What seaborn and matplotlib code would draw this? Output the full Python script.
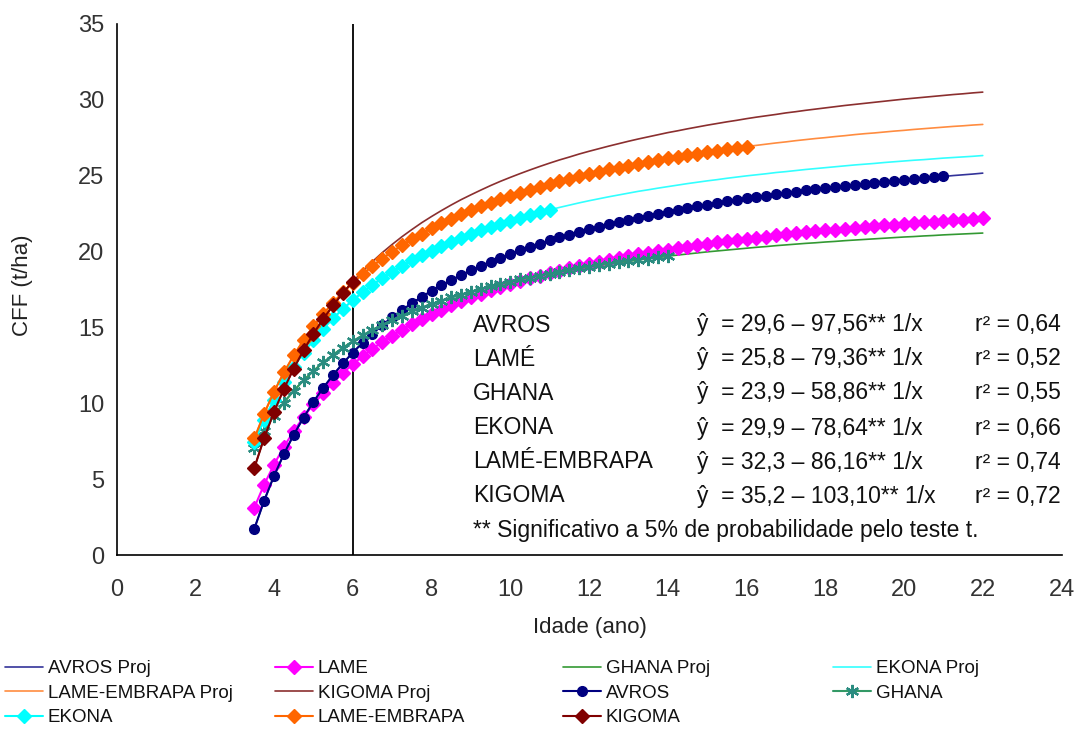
import matplotlib
matplotlib.use("Agg")
import matplotlib.pyplot as plt
import pandas as pd
import seaborn as sns

# ---------------- data ----------------
AGE = [3.5, 3.75, 4.0, 4.25, 4.5, 4.75, 5.0, 5.25, 5.5, 5.75,
       6.0, 6.25, 6.5, 6.75, 7.0, 7.25, 7.5, 7.75, 8.0, 8.25,
       8.5, 8.75, 9.0, 9.25, 9.5, 9.75, 10.0, 10.25, 10.5, 10.75,
       11.0, 11.25, 11.5, 11.75, 12.0, 12.25, 12.5, 12.75, 13.0, 13.25,
       13.5, 13.75, 14.0, 14.25, 14.5, 14.75, 15.0, 15.25, 15.5, 15.75,
       16.0, 16.25, 16.5, 16.75, 17.0, 17.25, 17.5, 17.75, 18.0, 18.25,
       18.5, 18.75, 19.0, 19.25, 19.5, 19.75, 20.0, 20.25, 20.5, 20.75,
       21.0, 21.25, 21.5, 21.75, 22.0]

AVROS = [1.73, 3.58, 5.21, 6.65, 7.92, 9.06, 10.09, 11.02, 11.86, 12.63,
         13.34, 13.99, 14.59, 15.15, 15.66, 16.14, 16.59, 17.01, 17.41, 17.77,
         18.12, 18.45, 18.76, 19.05, 19.33, 19.59, 19.84, 20.08, 20.31, 20.52,
         20.73, 20.93, 21.12, 21.30, 21.47, 21.64, 21.80, 21.95, 22.10, 22.24,
         22.37, 22.50, 22.63, 22.75, 22.87, 22.99, 23.10, 23.20, 23.31, 23.41,
         23.50, 23.60, 23.69, 23.78, 23.86, 23.94, 24.03, 24.10, 24.18, 24.25,
         24.33, 24.40, 24.47, 24.53, 24.60, 24.66, 24.72, 24.78, 24.84, 24.90,
         24.95, 25.01, 25.06, 25.11, 25.17]

LAME = [3.13, 4.64, 5.96, 7.13, 8.16, 9.09, 9.93, 10.68, 11.37, 12.00,
        12.57, 13.10, 13.59, 14.04, 14.46, 14.85, 15.22, 15.56, 15.88, 16.18,
        16.46, 16.73, 16.98, 17.22, 17.45, 17.66, 17.86, 18.06, 18.24, 18.42,
        18.59, 18.75, 18.90, 19.05, 19.19, 19.32, 19.45, 19.58, 19.70, 19.81,
        19.92, 20.03, 20.13, 20.23, 20.33, 20.42, 20.51, 20.60, 20.68, 20.76,
        20.84, 20.92, 20.99, 21.06, 21.13, 21.20, 21.27, 21.33, 21.39, 21.45,
        21.51, 21.57, 21.62, 21.68, 21.73, 21.78, 21.83, 21.88, 21.93, 21.98,
        22.02, 22.07, 22.11, 22.15, 22.19]

GHANA = [7.08, 8.20, 9.19, 10.05, 10.82, 11.51, 12.13, 12.69, 13.20, 13.66,
         14.09, 14.48, 14.84, 15.18, 15.49, 15.78, 16.05, 16.31, 16.54, 16.77,
         16.98, 17.17, 17.36, 17.54, 17.70, 17.86, 18.01, 18.16, 18.29, 18.42,
         18.55, 18.67, 18.78, 18.89, 19.00, 19.10, 19.19, 19.28, 19.37, 19.46,
         19.54, 19.62, 19.70, 19.77, 19.84, 19.91, 19.98, 20.04, 20.10, 20.16,
         20.22, 20.28, 20.33, 20.39, 20.44, 20.49, 20.54, 20.58, 20.63, 20.67,
         20.72, 20.76, 20.80, 20.84, 20.88, 20.92, 20.96, 20.99, 21.03, 21.06,
         21.10, 21.13, 21.16, 21.19, 21.22]

EKONA = [7.43, 8.93, 10.24, 11.40, 12.42, 13.34, 14.17, 14.92, 15.60, 16.22,
         16.79, 17.32, 17.80, 18.25, 18.67, 19.05, 19.42, 19.75, 20.07, 20.37,
         20.65, 20.91, 21.16, 21.40, 21.62, 21.83, 22.04, 22.23, 22.41, 22.58,
         22.75, 22.91, 23.06, 23.21, 23.35, 23.48, 23.61, 23.73, 23.85, 23.97,
         24.07, 24.18, 24.28, 24.38, 24.48, 24.57, 24.66, 24.74, 24.83, 24.91,
         24.99, 25.06, 25.13, 25.21, 25.27, 25.34, 25.41, 25.47, 25.53, 25.59,
         25.65, 25.71, 25.76, 25.81, 25.87, 25.92, 25.97, 26.02, 26.06, 26.11,
         26.16, 26.20, 26.24, 26.28, 26.33]

LAME_EMBRAPA = [7.68, 9.32, 10.76, 12.03, 13.15, 14.16, 15.07, 15.89, 16.63, 17.32,
                17.94, 18.51, 19.04, 19.54, 19.99, 20.42, 20.81, 21.18, 21.53, 21.86,
                22.16, 22.45, 22.73, 22.99, 23.23, 23.46, 23.68, 23.89, 24.09, 24.28,
                24.47, 24.64, 24.81, 24.97, 25.12, 25.27, 25.41, 25.54, 25.67, 25.80,
                25.92, 26.03, 26.15, 26.25, 26.36, 26.46, 26.56, 26.65, 26.74, 26.83,
                26.92, 27.00, 27.08, 27.16, 27.23, 27.31, 27.38, 27.45, 27.51, 27.58,
                27.64, 27.71, 27.77, 27.82, 27.88, 27.94, 27.99, 28.05, 28.10, 28.15,
                28.20, 28.25, 28.29, 28.34, 28.38]

KIGOMA = [5.74, 7.71, 9.43, 10.94, 12.29, 13.49, 14.58, 15.56, 16.45, 17.27,
          18.02, 18.70, 19.34, 19.93, 20.47, 20.98, 21.45, 21.90, 22.31, 22.70,
          23.07, 23.42, 23.74, 24.05, 24.35, 24.63, 24.89, 25.14, 25.38, 25.61,
          25.83, 26.04, 26.23, 26.43, 26.61, 26.78, 26.95, 27.11, 27.27, 27.42,
          27.56, 27.70, 27.84, 27.96, 28.09, 28.21, 28.33, 28.44, 28.55, 28.65,
          28.76, 28.86, 28.95, 29.04, 29.14, 29.22, 29.31, 29.39, 29.47, 29.55,
          29.63, 29.70, 29.77, 29.84, 29.91, 29.98, 30.05, 30.11, 30.17, 30.23,
          30.29, 30.35, 30.40, 30.46, 30.51]

# number of observed (marker) points per variety, starting at age 3.5
N_OBS_AVROS = 71
N_OBS_LAME = 75
N_OBS_GHANA = 43
N_OBS_EKONA = 31
N_OBS_LAME_EMBRAPA = 51
N_OBS_KIGOMA = 11

REF_AGE = 6

NAMES = ["AVROS", "LAMÉ", "GHANA", "EKONA", "LAMÉ-EMBRAPA", "KIGOMA"]
EQUATIONS = ["ŷ  = 29,6 – 97,56** 1/x",
             "ŷ  = 25,8 – 79,36** 1/x",
             "ŷ  = 23,9 – 58,86** 1/x",
             "ŷ  = 29,9 – 78,64** 1/x",
             "ŷ  = 32,3 – 86,16** 1/x",
             "ŷ  = 35,2 – 103,10** 1/x"]
R2 = ["r² = 0,64", "r² = 0,52", "r² = 0,55", "r² = 0,66", "r² = 0,74", "r² = 0,72"]
FOOTNOTE = "** Significativo a 5% de probabilidade pelo teste t."

X_TICKS = [0, 2, 4, 6, 8, 10, 12, 14, 16, 18, 20, 22, 24]
Y_TICKS = [0, 5, 10, 15, 20, 25, 30, 35]

# ---------------- figure ----------------
sns.set_theme(style="white")
plt.rcParams["font.family"] = ["Liberation Sans", "DejaVu Sans"]

fig = plt.figure(figsize=(10.78, 7.29), dpi=100)
W, H = 1078, 729
ax_l, ax_r, ax_t, ax_b = 116.5, 1061.5, 24, 555
ax = fig.add_axes([ax_l / W, 1 - ax_b / H, (ax_r - ax_l) / W, (ax_b - ax_t) / H])

age = pd.Series(AGE)


def draw(y, n, label, color, marker=None, ms=7, lw=1.2, mec=None, mew=1.0, z=2):
    before = len(ax.lines)
    kw = dict(marker=marker, markersize=ms, markeredgecolor=mec or color,
              markerfacecolor=color, markeredgewidth=mew) if marker else {}
    sns.lineplot(x=age[:n], y=pd.Series(y)[:n], ax=ax, color=color, linewidth=lw,
                 label=label, legend=False, sort=False, estimator=None, zorder=z, **kw)
    return ax.lines[before]


ax.axvline(REF_AGE, color="black", lw=1.3, zorder=1.5)

h = {}
h["AVROS Proj"] = draw(AVROS, len(AGE), "AVROS Proj", "#333399", lw=1.2)
h["LAME"] = draw(LAME, N_OBS_LAME, "LAME", "#FF00FF", marker="D", ms=7, lw=1.5, z=3)
h["GHANA Proj"] = draw(GHANA, len(AGE), "GHANA Proj", "#339933", lw=1.2)
h["EKONA Proj"] = draw(EKONA, len(AGE), "EKONA Proj", "#33FFFF", lw=1.2)
h["LAME-EMBRAPA Proj"] = draw(LAME_EMBRAPA, len(AGE), "LAME-EMBRAPA Proj", "#FF8C40", lw=1.2)
h["KIGOMA Proj"] = draw(KIGOMA, len(AGE), "KIGOMA Proj", "#8B2F2F", lw=1.2)
h["AVROS"] = draw(AVROS, N_OBS_AVROS, "AVROS", "#000080", marker="o", ms=7, lw=1.5, z=4)
h["GHANA"] = draw(GHANA, N_OBS_GHANA, "GHANA", "#339966", marker=(6, 2, 0), ms=9.5,
                  lw=1.5, mec="#2A8C80", mew=1.6, z=4)
h["EKONA"] = draw(EKONA, N_OBS_EKONA, "EKONA", "#00FFFF", marker="D", ms=7, lw=1.5, z=4)
h["LAME-EMBRAPA"] = draw(LAME_EMBRAPA, N_OBS_LAME_EMBRAPA, "LAME-EMBRAPA", "#FF6600",
                         marker="D", ms=7, lw=1.5, z=4)
h["KIGOMA"] = draw(KIGOMA, N_OBS_KIGOMA, "KIGOMA", "#800000", marker="D", ms=7, lw=1.5, z=5)

# axes styling
ax.set_xlim(0, 24)
ax.set_ylim(0, 35)
ax.set_xticks(X_TICKS)
ax.set_yticks(Y_TICKS)
for s in ["top", "right"]:
    ax.spines[s].set_visible(False)
for s in ["left", "bottom"]:
    ax.spines[s].set_color("black")
    ax.spines[s].set_linewidth(1.2)
ax.tick_params(axis="both", which="major", direction="out", length=5, width=1.2,
               color="black", labelsize=17, labelcolor="#333333")
ax.tick_params(axis="x", pad=12)
ax.tick_params(axis="y", pad=4)
ax.grid(False)
ax.set_facecolor("white")

ax.set_xlabel("Idade (ano)", fontsize=16, color="#222222")
ax.set_ylabel("CFF (t/ha)", fontsize=16, color="#222222")
ax.xaxis.set_label_coords((590 - ax_l) / (ax_r - ax_l), (ax_b - 617) / (ax_b - ax_t))
ax.yaxis.set_label_coords((33 - ax_l) / (ax_r - ax_l), (ax_b - 285) / (ax_b - ax_t))

# equation annotations
row_px = [325, 359, 393, 428, 462, 496]
fs_ann = 16.5
for i in range(len(NAMES)):
    yy = (ax_b - row_px[i]) / (ax_b - ax_t)
    ax.text((473 - ax_l) / (ax_r - ax_l), yy, NAMES[i], transform=ax.transAxes,
            fontsize=fs_ann, va="center", ha="left", color="#111111")
    ax.text((697 - ax_l) / (ax_r - ax_l), yy, EQUATIONS[i], transform=ax.transAxes,
            fontsize=fs_ann, va="center", ha="left", color="#111111")
    ax.text((975 - ax_l) / (ax_r - ax_l), yy, R2[i], transform=ax.transAxes,
            fontsize=fs_ann, va="center", ha="left", color="#111111")
ax.text((473 - ax_l) / (ax_r - ax_l), (ax_b - 530) / (ax_b - ax_t), FOOTNOTE,
        transform=ax.transAxes, fontsize=fs_ann, va="center", ha="left", color="#111111")

# legend: four columns placed like the original
columns = [["AVROS Proj", "LAME-EMBRAPA Proj", "EKONA"],
           ["LAME", "KIGOMA Proj", "LAME-EMBRAPA"],
           ["GHANA Proj", "AVROS", "KIGOMA"],
           ["EKONA Proj", "GHANA"]]
col_x = [5, 275, 563, 833]
for cx, col in zip(col_x, columns):
    leg = fig.legend([h[k] for k in col], col, loc="upper left",
                     bbox_to_anchor=(cx / W, 1 - 660 / H), frameon=False,
                     fontsize=13.5, handlelength=2.0, handletextpad=0.27,
                     labelspacing=0.4, borderpad=0, borderaxespad=0, numpoints=1)
    for t in leg.get_texts():
        t.set_color("#111111")

fig.savefig("out.png", dpi=100, facecolor="white")
